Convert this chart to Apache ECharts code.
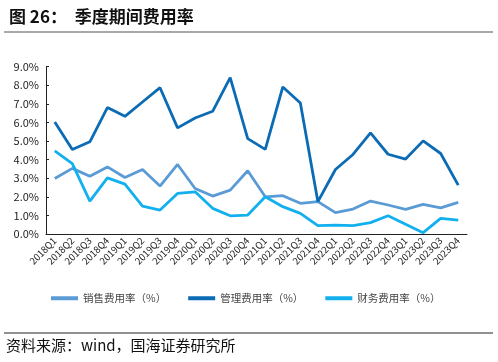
<!DOCTYPE html>
<html lang="zh">
<head>
    <meta charset="UTF-8">
    <title>季度期间费用率</title>
    <script src="https://cdn.jsdelivr.net/npm/echarts@6/dist/echarts.min.js"></script>
    <style>
        html, body { margin: 0; padding: 0; background: #fff; }
        #chart { width: 498px; height: 362px; }
    </style>
</head>
<body>
<div id="chart"></div>
<script>
    // 季度
    var quarters = ['2018Q1','2018Q2','2018Q3','2018Q4','2019Q1','2019Q2','2019Q3','2019Q4',
        '2020Q1','2020Q2','2020Q3','2020Q4','2021Q1','2021Q2','2021Q3','2021Q4',
        '2022Q1','2022Q2','2022Q3','2022Q4','2023Q1','2023Q2','2023Q3','2023Q4'];
    // 销售费用率
    var salesRate = [2.99, 3.53, 3.11, 3.61, 3.04, 3.47, 2.58, 3.74, 2.45, 2.04, 2.36, 3.40,
        2.00, 2.06, 1.65, 1.74, 1.15, 1.34, 1.77, 1.56, 1.32, 1.59, 1.41, 1.70];
    // 管理费用率
    var mgmtRate = [6.03, 4.55, 4.96, 6.80, 6.33, 7.10, 7.87, 5.71, 6.24, 6.60, 8.41, 5.13,
        4.55, 7.91, 7.05, 1.74, 3.47, 4.28, 5.44, 4.29, 4.03, 5.01, 4.33, 2.63];
    // 财务费用率
    var finRate = [4.47, 3.79, 1.77, 3.02, 2.68, 1.50, 1.29, 2.18, 2.27, 1.38, 0.98, 1.02,
        2.00, 1.47, 1.11, 0.45, 0.48, 0.45, 0.61, 0.98, 0.52, 0.07, 0.84, 0.75];

    var font = '"Noto Sans CJK SC", sans-serif';

    function lineSeries(name, data, color) {
        return {
            name: name,
            type: 'line',
            data: data,
            symbol: 'none',
            lineStyle: { width: 2.8, color: color },
            itemStyle: { color: color }
        };
    }

    var option = {
        animation: false,
        textStyle: { fontFamily: font },
        title: {
            text: '图 26：  季度期间费用率',
            left: 4,
            top: 3,
            textStyle: { fontSize: 17, fontWeight: 'bold', color: '#111', fontFamily: font }
        },
        graphic: [
            { type: 'line', shape: { x1: 4, y1: 32, x2: 493, y2: 32 }, style: { stroke: '#8c8c8c', lineWidth: 1.5 } },
            { type: 'line', shape: { x1: 4, y1: 333, x2: 493, y2: 333 }, style: { stroke: '#222', lineWidth: 1 } },
            { type: 'text', left: 6, top: 338, style: { text: '资料来源：wind，国海证券研究所', fontSize: 15, fill: '#111', fontFamily: font } }
        ],
        legend: {
            top: 288,
            left: 46,
            itemWidth: 27,
            itemHeight: 4,
            itemGap: 22,
            icon: 'rect',
            textStyle: { fontSize: 10.5, color: '#444' },
            data: ['销售费用率（%）', '管理费用率（%）', '财务费用率（%）']
        },
        grid: { left: 46, right: 31, top: 66.7, bottom: 128 },
        xAxis: {
            type: 'category',
            data: quarters,
            boundaryGap: true,
            axisLine: { lineStyle: { color: '#222', width: 1 } },
            axisTick: { inside: true, length: 3, lineStyle: { color: '#222' } },
            axisLabel: { interval: 0, rotate: 45, fontSize: 9.5, color: '#222', margin: 5 }
        },
        yAxis: {
            type: 'value',
            min: 0,
            max: 9,
            interval: 1,
            axisLine: { show: true, lineStyle: { color: '#222', width: 1 } },
            axisTick: { show: true, inside: true, length: 3, lineStyle: { color: '#222' } },
            splitLine: { show: false },
            axisLabel: {
                fontSize: 11,
                color: '#222',
                margin: 7,
                formatter: function (v) { return v.toFixed(1) + '%'; }
            }
        },
        series: [
            lineSeries('销售费用率（%）', salesRate, '#5b9bd5'),
            lineSeries('管理费用率（%）', mgmtRate, '#0b6bb5'),
            lineSeries('财务费用率（%）', finRate, '#12b0ee')
        ]
    };

    var myChart = echarts.init(document.getElementById('chart'));
    myChart.setOption(option);
</script>
</body>
</html>
